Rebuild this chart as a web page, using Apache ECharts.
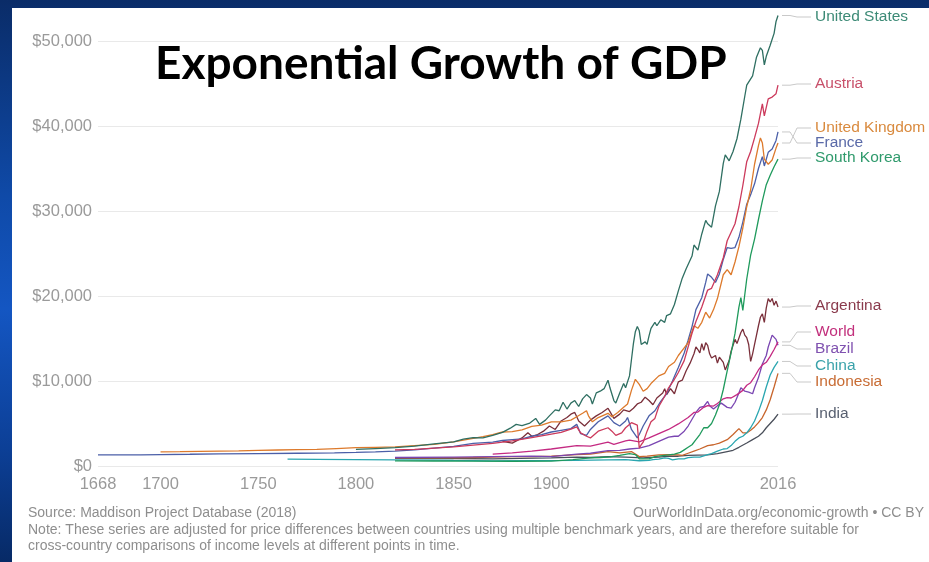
<!DOCTYPE html>
<html>
<head>
<meta charset="utf-8">
<script src="https://cdn.jsdelivr.net/npm/echarts@6/dist/echarts.min.js"></script>
<style>
  html, body { margin: 0; padding: 0; width: 929px; height: 562px; overflow: hidden; }
  body { background: linear-gradient(to bottom, #0a2c68 0%, #0f4aa8 35%, #1456c2 55%, #0c3f96 80%, #072a66 100%); position: relative; }
  #paper { position: absolute; left: 12px; top: 8px; width: 917px; height: 554px; background: #ffffff; }
  #chart { position: absolute; left: 0; top: 0; width: 929px; height: 562px; }
</style>
</head>
<body>
<div id="paper"></div>
<div id="chart"></div>
<script>
// ---------- data (GDP per capita, int.-$) ----------
const countryNames = ['United States','Austria','United Kingdom','France','South Korea','Argentina','World','Brazil','China','Indonesia','India'];

const usData = [[1800,1950],[1810,2050],[1820,2150],[1830,2350],[1840,2600],[1850,2850],[1855,3150],[1860,3350],[1865,3300],[1870,3600],[1875,3950],[1879,4450],[1882,4900],[1885,4750],[1889,5050],[1892,5600],[1894,4900],[1897,5400],[1899,5900],[1902,6600],[1904,6500],[1906,7500],[1908,6700],[1910,7400],[1912,7700],[1914,7000],[1916,7900],[1918,8400],[1920,8000],[1921,7300],[1923,8600],[1925,8800],[1927,9100],[1929,10100],[1930,9200],[1932,7700],[1933,7400],[1935,8600],[1937,9700],[1938,9200],[1940,10600],[1941,12500],[1942,14400],[1943,15800],[1944,16400],[1945,15900],[1946,14300],[1947,14100],[1948,14600],[1949,14300],[1950,15300],[1951,16200],[1953,16900],[1954,16500],[1956,17200],[1958,16900],[1959,17700],[1961,17900],[1963,19000],[1965,20600],[1967,22100],[1969,23200],[1970,23000],[1972,24700],[1973,26000],[1975,25400],[1977,27300],[1979,28900],[1980,28500],[1982,28100],[1984,30600],[1986,32300],[1988,35600],[1989,36600],[1991,35900],[1993,37000],[1995,38500],[1997,40800],[1999,43500],[2000,44800],[2001,44700],[2003,45900],[2005,48100],[2007,49200],[2008,48900],[2009,47200],[2010,48200],[2012,49500],[2014,50900],[2015,52300],[2016,53000]];

const austriaData = [[1820,1900],[1830,1950],[1840,2100],[1850,2250],[1860,2450],[1870,2650],[1880,2950],[1890,3350],[1900,3750],[1905,3950],[1910,4350],[1913,4600],[1915,3900],[1918,3500],[1920,3300],[1924,4100],[1929,4500],[1931,4100],[1933,3600],[1936,3900],[1938,4500],[1941,5100],[1944,4800],[1945,2100],[1946,2500],[1947,2800],[1949,4100],[1951,5200],[1953,5600],[1955,7000],[1958,8200],[1960,9200],[1963,10200],[1965,11000],[1968,12400],[1970,14000],[1972,15600],[1974,17000],[1975,16800],[1977,18700],[1980,20700],[1982,20900],[1985,22500],[1988,24500],[1990,26500],[1992,27500],[1994,28500],[1996,30500],[1998,33000],[2000,35800],[2002,37000],[2004,38600],[2006,40300],[2008,42600],[2009,41200],[2011,43200],[2013,43400],[2015,43800],[2016,44800]];

const ukData = [[1700,1650],[1710,1680],[1720,1720],[1730,1760],[1740,1780],[1750,1850],[1760,1880],[1770,1920],[1780,1950],[1790,2050],[1800,2150],[1810,2200],[1820,2250],[1830,2400],[1840,2550],[1850,2850],[1855,3050],[1860,3250],[1865,3450],[1870,3700],[1875,4000],[1880,4050],[1885,4250],[1890,4650],[1895,4800],[1900,5200],[1905,5200],[1910,5400],[1913,5800],[1916,6200],[1918,6500],[1919,5900],[1921,5200],[1924,5700],[1929,6200],[1931,5800],[1934,6300],[1937,6900],[1939,7300],[1941,8900],[1943,10200],[1945,9600],[1947,8800],[1949,9100],[1951,9700],[1955,10600],[1958,10900],[1960,11700],[1963,12200],[1965,13000],[1968,13900],[1970,14500],[1973,16500],[1975,16200],[1977,16900],[1979,18100],[1981,17400],[1983,18400],[1985,19700],[1988,22500],[1990,23100],[1992,22500],[1994,24000],[1996,25800],[1998,28000],[2000,30500],[2002,32500],[2004,35500],[2006,37700],[2007,38600],[2008,38000],[2009,36100],[2011,35500],[2013,36000],[2015,37400],[2016,38000]];

const franceData = [[1668,1300],[1680,1320],[1690,1300],[1700,1350],[1715,1380],[1730,1420],[1750,1450],[1770,1500],[1789,1550],[1800,1600],[1810,1650],[1820,1750],[1830,1900],[1840,2100],[1850,2300],[1860,2650],[1870,2800],[1875,3000],[1880,3100],[1885,3200],[1890,3500],[1895,3700],[1900,4000],[1905,4200],[1910,4400],[1913,4900],[1915,3800],[1918,3600],[1920,4300],[1924,5200],[1929,5900],[1930,5800],[1932,5100],[1935,4700],[1938,5300],[1939,5700],[1941,4300],[1944,3300],[1945,3700],[1947,4700],[1950,5900],[1953,6500],[1956,7600],[1959,8500],[1962,10000],[1965,11600],[1968,13300],[1970,14800],[1972,16400],[1974,18400],[1975,18200],[1977,19800],[1979,21600],[1980,22600],[1982,22200],[1984,21600],[1986,22600],[1988,24300],[1990,25700],[1992,25600],[1994,25700],[1996,26900],[1998,28700],[2000,30800],[2002,31900],[2004,33200],[2006,35000],[2008,36400],[2009,35300],[2011,36900],[2013,37300],[2015,38300],[2016,39300]];

const koreaData = [[1820,600],[1840,590],[1860,570],[1880,560],[1900,580],[1911,750],[1915,850],[1920,950],[1925,1000],[1930,1080],[1935,1250],[1940,1450],[1943,1350],[1945,850],[1950,850],[1953,1100],[1956,1200],[1960,1300],[1963,1400],[1966,1600],[1968,1900],[1970,2200],[1972,2500],[1974,3100],[1976,3700],[1978,4500],[1980,4500],[1982,5000],[1984,6000],[1986,7200],[1988,9000],[1990,11200],[1992,13300],[1994,15600],[1996,18700],[1997,19800],[1998,18300],[2000,22000],[2002,24800],[2004,26700],[2006,29000],[2008,31200],[2009,31300],[2010,33100],[2012,34200],[2014,35200],[2016,36100]];

const argentinaData = [[1875,2900],[1880,2700],[1885,3300],[1888,3900],[1890,3500],[1893,3700],[1896,4100],[1899,4700],[1902,4300],[1905,5300],[1908,5700],[1910,6100],[1912,6300],[1914,5300],[1917,4700],[1920,5400],[1923,5900],[1926,6300],[1929,6800],[1930,6400],[1932,5600],[1935,6100],[1937,6600],[1940,6400],[1942,6800],[1944,7300],[1946,7500],[1948,8100],[1950,7700],[1952,7200],[1954,8000],[1957,8600],[1958,9100],[1959,8400],[1961,9100],[1963,8500],[1965,9900],[1967,10100],[1969,11200],[1971,12100],[1973,13200],[1974,14000],[1975,13700],[1976,13300],[1977,14400],[1978,13600],[1979,14500],[1980,14200],[1981,13200],[1982,12700],[1984,13000],[1985,12100],[1986,12800],[1987,12900],[1988,12200],[1989,11300],[1990,11100],[1991,12400],[1992,13500],[1994,14900],[1995,14400],[1997,15700],[1998,16100],[1999,15400],[2000,15100],[2001,14300],[2002,12300],[2003,13200],[2004,14300],[2005,15400],[2006,16500],[2007,17500],[2008,17900],[2009,16900],[2010,18600],[2011,19700],[2012,19300],[2013,19700],[2014,18900],[2015,19400],[2016,18700]];

const worldData = [[1870,1400],[1880,1550],[1890,1750],[1900,2000],[1913,2400],[1920,2350],[1929,2800],[1932,2550],[1938,2950],[1940,3050],[1945,2850],[1950,3300],[1955,3800],[1960,4300],[1965,4950],[1970,5700],[1973,6300],[1975,6350],[1978,6900],[1980,7100],[1983,7050],[1985,7350],[1988,7900],[1990,8050],[1992,8000],[1995,8400],[1998,8900],[2000,9500],[2002,9800],[2004,10500],[2006,11300],[2008,11900],[2009,11700],[2010,12200],[2012,12900],[2014,13700],[2016,14600]];

const brazilData = [[1820,1000],[1850,1050],[1870,1100],[1890,1150],[1900,1100],[1913,1400],[1920,1500],[1929,1800],[1935,1850],[1940,2000],[1945,2100],[1950,2400],[1955,2900],[1960,3400],[1963,3500],[1965,3500],[1968,4100],[1970,4700],[1972,5500],[1974,6300],[1976,6900],[1978,7000],[1980,7600],[1981,7100],[1983,6700],[1985,7100],[1987,7400],[1988,7200],[1990,6900],[1992,6800],[1994,7500],[1996,8600],[1997,9200],[1999,8800],[2001,8700],[2003,8500],[2004,9200],[2006,10400],[2008,12000],[2009,11800],[2010,13000],[2011,14000],[2013,15400],[2014,15600],[2015,14900],[2016,14200]];

const chinaData = [[1765,800],[1780,780],[1800,760],[1820,720],[1840,690],[1850,660],[1870,610],[1890,630],[1913,660],[1929,720],[1938,740],[1945,620],[1950,650],[1952,750],[1955,800],[1958,950],[1960,900],[1962,720],[1965,850],[1968,850],[1970,980],[1973,1050],[1976,1050],[1978,1200],[1980,1350],[1982,1450],[1985,1750],[1988,2000],[1990,2050],[1992,2400],[1994,2900],[1996,3300],[1998,3500],[2000,3900],[2002,4500],[2004,5300],[2006,6400],[2008,7700],[2010,9300],[2012,10700],[2014,11600],[2016,12300]];

const indonesiaData = [[1820,950],[1840,950],[1860,1000],[1870,1050],[1880,1100],[1890,1100],[1900,1150],[1913,1350],[1920,1400],[1929,1700],[1935,1550],[1941,1700],[1945,1100],[1949,1150],[1955,1300],[1960,1350],[1965,1300],[1967,1250],[1970,1500],[1973,1750],[1976,2000],[1980,2400],[1983,2500],[1986,2700],[1990,3100],[1993,3700],[1996,4400],[1997,4600],[1998,3900],[2000,3900],[2002,4200],[2004,4600],[2006,5100],[2008,5700],[2010,6600],[2012,7800],[2014,9300],[2016,10900]];

const indiaData = [[1820,900],[1850,880],[1870,850],[1884,900],[1900,950],[1913,1050],[1920,1000],[1929,1100],[1938,1050],[1947,950],[1950,1000],[1955,1050],[1960,1150],[1965,1150],[1970,1250],[1975,1280],[1980,1300],[1985,1450],[1990,1700],[1993,1850],[1996,2200],[2000,2700],[2003,3100],[2006,3500],[2008,3900],[2010,4500],[2012,5000],[2014,5500],[2016,6100]];

const xTickYears = [1668, 1700, 1750, 1800, 1850, 1900, 1950, 2016];

// ---------- styling (kept apart from data) ----------
const allData = [usData, austriaData, ukData, franceData, koreaData, argentinaData, worldData, brazilData, chinaData, indonesiaData, indiaData];
const lineColors  = ['#2f6f62','#cc3a5c','#dd7a2c','#4b5fa8','#1f9a5c','#7a2f3a','#c42a82','#7a46b2','#2aa6b0','#c8652c','#4a4f5a'];
const labelColors = ['#3c8a76','#c8506a','#d98a3e','#5a6aa8','#2f9a6c','#8a3a4c','#c2307c','#8052b0','#3aa2aa','#c86c34','#586070'];
const labelYs = [17, 84, 128, 143, 158, 306, 332, 349, 366, 382, 414];

const chart = echarts.init(document.getElementById('chart'), null, { renderer: 'canvas' });

const option = {
  backgroundColor: 'transparent',
  animation: false,
  title: {
    text: 'Exponential Growth of GDP',
    left: 155, top: 41, padding: 0,
    textStyle: { fontFamily: 'Lato', fontWeight: 'bold', fontSize: 46, color: '#000' }
  },
  grid: { left: 98, right: 151, top: 41, bottom: 96 },
  xAxis: {
    type: 'value', min: 1668, max: 2016,
    axisLine: { show: false }, axisTick: { show: false }, splitLine: { show: false },
    axisLabel: {
      customValues: xTickYears, margin: 10,
      color: '#9a9a9a', fontSize: 16.5, fontFamily: 'Liberation Sans',
      formatter: v => String(v)
    }
  },
  yAxis: {
    type: 'value', min: 0, max: 50000, interval: 10000,
    axisLine: { show: false }, axisTick: { show: false },
    splitLine: { lineStyle: { color: '#e9e9e9', width: 1 } },
    axisLabel: {
      margin: 6, color: '#9a9a9a', fontSize: 16.5, fontFamily: 'Liberation Sans',
      formatter: v => '$' + v.toLocaleString('en-US')
    }
  },
  series: countryNames.map((n, i) => ({
    name: n, type: 'line', data: allData[i], showSymbol: false, clip: false,
    lineStyle: { color: lineColors[i], width: 1.3 }, itemStyle: { color: lineColors[i] },
    z: 3 + (countryNames.length - i)
  }))
};
chart.setOption(option);

// end labels with connector lines, anchored on the library's scale
const graphics = [];
countryNames.forEach((n, i) => {
  const d = allData[i];
  const p = chart.convertToPixel({ gridIndex: 0 }, d[d.length - 1]);
  const ly = labelYs[i];
  graphics.push({
    type: 'polyline', silent: true,
    shape: { points: [[p[0] + 4, p[1]], [790, p[1]], [797, ly], [811, ly]] },
    style: { stroke: '#c9c9c9', lineWidth: 1, fill: null }
  });
  graphics.push({
    type: 'text', silent: true, x: 815, y: ly,
    style: { text: n, fill: labelColors[i], font: '15.5px "Liberation Sans"', textAlign: 'left', textVerticalAlign: 'middle' }
  });
});
const noteStyle = { fill: '#8e8e8e', font: '14px "Liberation Sans"', textVerticalAlign: 'middle' };
graphics.push({ type: 'text', silent: true, x: 28, y: 513, style: Object.assign({ text: 'Source: Maddison Project Database (2018)' }, noteStyle) });
graphics.push({ type: 'text', silent: true, x: 633, y: 513, style: Object.assign({ text: 'OurWorldInData.org/economic-growth • CC BY' }, noteStyle) });
graphics.push({ type: 'text', silent: true, x: 28, y: 530, style: Object.assign({ text: 'Note: These series are adjusted for price differences between countries using multiple benchmark years, and are therefore suitable for' }, noteStyle) });
graphics.push({ type: 'text', silent: true, x: 28, y: 546, style: Object.assign({ text: 'cross-country comparisons of income levels at different points in time.' }, noteStyle) });

chart.setOption({ graphic: graphics });
</script>
</body>
</html>
